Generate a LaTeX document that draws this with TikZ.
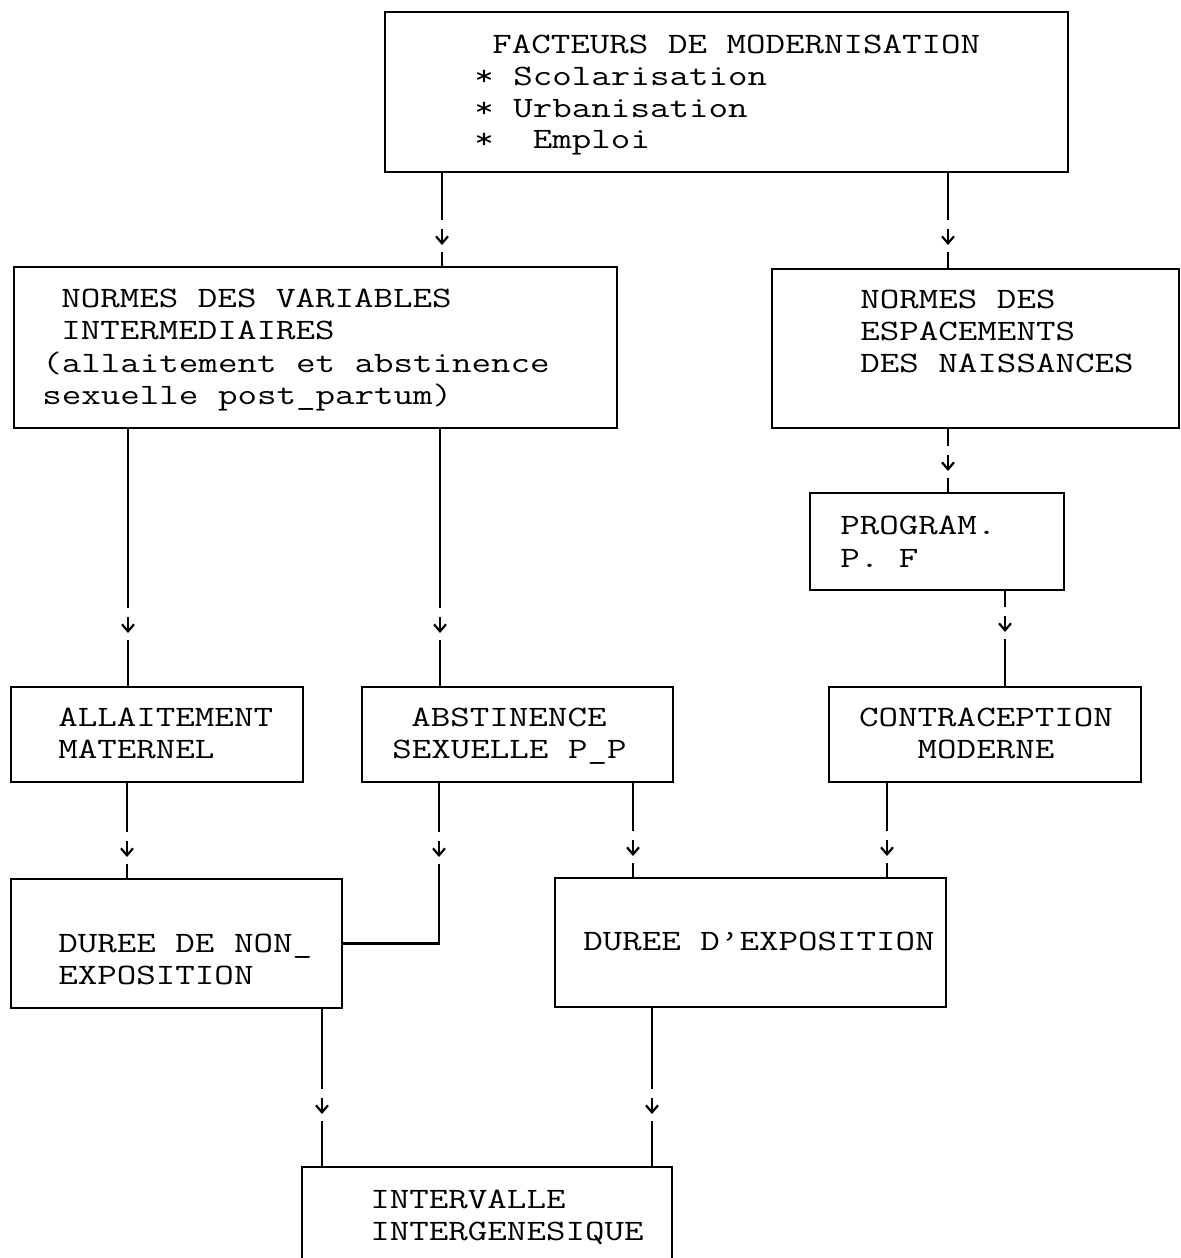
\documentclass[tikz,border=0pt]{standalone}
\usepackage{fontspec}
\setmonofont{Latin Modern Mono}[FakeStretch=1.28]
\usetikzlibrary{arrows.meta,calc,fit}
\tikzset{
  ln/.style={line width=1.1pt,black},
  box/.style={draw,line width=1.1pt,inner sep=0pt,rectangle},
  txt/.style={inner sep=0pt,anchor=base west,font=\ttfamily\fontsize{14.8pt}{14.8pt}\selectfont},
  tipstyle/.style={ln,-{Straight Barb[length=3.5pt,width=6pt]}}
}
\newcommand\gapstart[2]{\draw[ln] (#1 |- #2.south) -- ($(#1)+(0,-17)$);
  \draw[tipstyle] ($(#1)+(0,-8)$) -- ($(#1)+(0,8)$);}
\newcommand\gconn[3]{\gapstart{#1}{#2}\draw[ln] ($(#1)+(0,15)$) -- (#1 |- #3.north);}
\begin{document}
\begin{tikzpicture}[x=0.5pt,y=-0.5pt]
\useasboundingbox (0,0) rectangle (1181,1258);
\clip (0,0) rectangle (1181,1258);
\fill[white] (0,0) rectangle (1181,1258);
% boxes
\node[box,fit={(385,12) (1068,172)}] (top) {};
\node[box,fit={(14,267) (617,428)}] (nv) {};
\node[box,fit={(772,269) (1179,428)}] (ne) {};
\node[box,fit={(810,493) (1064,590)}] (pf) {};
\node[box,fit={(11,687) (303,782)}] (al) {};
\node[box,fit={(362,687) (673,782)}] (ab) {};
\node[box,fit={(829,687) (1141,782)}] (cm) {};
\node[box,fit={(11,879) (342,1008)}] (dne) {};
\node[box,fit={(555,878) (946,1007)}] (de) {};
\node[box,fit={(302,1167) (672,1275)}] (int) {};
% texts
\node[txt] (t1) at (492,53) {FACTEURS DE MODERNISATION};
\node[txt] (t2) at (474,85) {* Scolarisation};
\node[txt] (t3) at (474,117) {* Urbanisation};
\node[txt] (t4) at (474,148) {*\ \ Emploi};
\node[txt] (n1) at (61,307) {NORMES DES VARIABLES};
\node[txt] (n2) at (61,339) {INTERMEDIAIRES};
\node[txt] (n3) at (42,372) {(allaitement et abstinence};
\node[txt] (n4) at (42,404) {sexuelle post\_partum)};
\node[txt] (e1) at (860,308) {NORMES DES};
\node[txt] (e2) at (860,340) {ESPACEMENTS};
\node[txt] (e3) at (860,372) {DES NAISSANCES};
\node[txt] (p1) at (840,534) {PROGRAM.};
\node[txt] (p2) at (840,567) {P. F};
\node[txt] (a1) at (58,726) {ALLAITEMENT};
\node[txt] (a2) at (58,758) {MATERNEL};
\node[txt] (b1) at (411,726) {ABSTINENCE};
\node[txt] (b2) at (392,758) {SEXUELLE P\_P};
\node[txt,anchor=base] (c1) at (986,726) {CONTRACEPTION};
\node[txt,anchor=base] (c2) at (986,758) {MODERNE};
\node[txt] (d1) at (58,952) {DUREE DE NON\_};
\node[txt] (d2) at (58,984) {EXPOSITION};
\node[txt] (x1) at (583,950) {DUREE D’EXPOSITION};
\node[txt] (i1) at (370,1208) {INTERVALLE};
\node[txt] (i2) at (370,1240) {INTERGENESIQUE};
% connector tip positions
\coordinate (m1) at (442,237);
\coordinate (m2) at (948,237);
\coordinate (m3) at (128,625);
\coordinate (m4) at (440,625);
\coordinate (m5) at (948,463);
\coordinate (m6) at (1005,624);
\coordinate (m7) at (127,849);
\coordinate (m8) at (439,849);
\coordinate (m9) at (633,848);
\coordinate (m10) at (887,848);
\coordinate (m11) at (322,1106);
\coordinate (m12) at (652,1106);
% connectors
\gconn{m1}{top}{nv}
\gconn{m2}{top}{ne}
\gconn{m3}{nv}{al}
\gconn{m4}{nv}{ab}
\gconn{m5}{ne}{pf}
\gconn{m6}{pf}{cm}
\gconn{m7}{al}{dne}
\gapstart{m8}{ab}\draw[ln] ($(m8)+(0,15)$) |- (dne.east);
\gconn{m9}{ab}{de}
\gconn{m10}{cm}{de}
\gconn{m11}{dne}{int}
\gconn{m12}{de}{int}
\end{tikzpicture}
\end{document}
